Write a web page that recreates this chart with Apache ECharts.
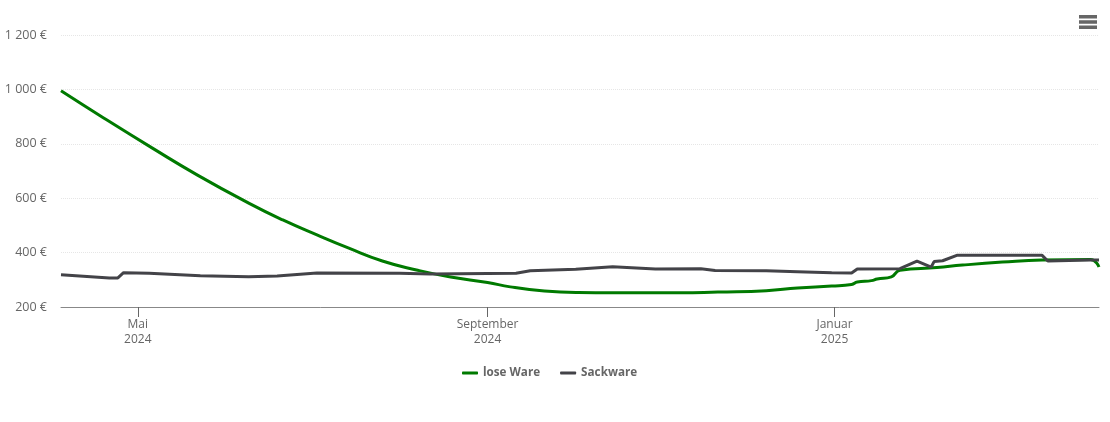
<!DOCTYPE html>
<html>
<head>
    <meta charset="UTF-8"/>
    <script type="text/javascript" src="https://cdn.jsdelivr.net/npm/echarts@6/dist/echarts.min.js"></script>
    <title>Preis</title>
    <style>
        html, body { margin: 0; padding: 0; background: #fff; }
        #main { width: 1110px; height: 422px; }
    </style>
</head>
<body>
<div id="main"></div>
<script type="text/javascript">
    var loseDates = ['2024-04-04', '2024-04-19', '2024-05-06', '2024-05-22', '2024-06-09', '2024-06-21', '2024-07-03', '2024-07-14', '2024-07-26', '2024-08-07', '2024-08-19', '2024-09-01', '2024-09-09', '2024-09-21', '2024-10-03', '2024-10-15', '2024-10-27', '2024-11-08', '2024-11-21', '2024-12-08', '2024-12-19', '2024-12-31', '2025-01-07', '2025-01-09', '2025-01-14', '2025-01-16', '2025-01-21', '2025-01-24', '2025-02-06', '2025-02-15', '2025-03-01', '2025-03-15', '2025-04-01', '2025-04-04'];
    var loseValues = [995, 895, 785, 685, 582, 520, 465, 417, 369, 336, 310, 290, 274, 259, 253, 252, 252, 252, 255, 260, 270, 277, 283, 292, 297, 303, 311, 335, 345, 354, 365, 373, 375, 347];

    var sackDates = ['2024-04-04', '2024-04-21', '2024-04-24', '2024-04-26', '2024-05-05', '2024-05-23', '2024-06-09', '2024-06-19', '2024-07-03', '2024-08-01', '2024-08-12', '2024-09-11', '2024-09-16', '2024-10-02', '2024-10-15', '2024-10-30', '2024-11-15', '2024-11-20', '2024-12-08', '2024-12-19', '2024-12-31', '2025-01-07', '2025-01-09', '2025-01-24', '2025-01-30', '2025-02-04', '2025-02-05', '2025-02-08', '2025-02-13', '2025-03-15', '2025-03-17', '2025-04-01', '2025-04-04'];
    var sackValues = [319, 307, 307, 326, 324, 315, 311, 314, 325, 324, 321, 324, 333, 339, 348, 340, 341, 334, 333, 330, 326, 325, 340, 341, 369, 347, 367, 370, 390, 390, 369, 373, 373];

    var xTickDates = ['2024-05-01', '2024-09-01', '2025-01-01'];
    var xTickLabels = ['Mai\n2024', 'September\n2024', 'Januar\n2025'];
    var yTickLabels = {200: '200 €', 400: '400 €', 600: '600 €', 800: '800 €', 1000: '1 000 €', 1200: '1 200 €'};

    function toTime(d) {
        return new Date(d + 'T00:00:00').getTime();
    }

    function pairs(dates, values) {
        return dates.map(function (d, i) {
            return [toTime(d), values[i]];
        });
    }

    var xTicks = xTickDates.map(toTime);
    var myChart = echarts.init(document.getElementById('main'), null, {renderer: 'canvas'});

    var option = {
        animation: false,
        textStyle: {fontFamily: '"Open Sans", sans-serif'},
        grid: {left: 61, right: 11, top: 35, bottom: 115},
        legend: {
            left: 457,
            top: 362,
            icon: 'roundRect',
            itemWidth: 16,
            itemHeight: 3,
            itemGap: 20,
            textStyle: {color: '#666', fontSize: 11.7, fontWeight: 'bold', fontFamily: '"Open Sans", sans-serif'},
            data: ['lose Ware', 'Sackware']
        },
        toolbox: {
            right: -2,
            top: 0,
            itemSize: 18,
            feature: {
                myMenu: {
                    show: true,
                    title: 'Menü',
                    icon: 'path://M0 0H18V3.4H0ZM0 5.3H18V8.7H0ZM0 10.6H18V14H0Z',
                    iconStyle: {color: '#666', borderColor: '#666', borderWidth: 0},
                    onclick: function () {}
                }
            }
        },
        xAxis: {
            type: 'value',
            min: toTime('2024-04-04'),
            max: toTime('2025-04-04'),
            axisLine: {lineStyle: {color: '#888', width: 1}},
            axisTick: {show: true, length: 10, lineStyle: {color: '#666'}, customValues: xTicks},
            axisLabel: {
                color: '#666',
                fontSize: 12,
                lineHeight: 15,
                margin: 10,
                hideOverlap: false,
                customValues: xTicks,
                formatter: function (value) {
                    return xTickLabels[xTicks.indexOf(value)];
                }
            },
            splitLine: {show: false}
        },
        yAxis: {
            type: 'value',
            min: 200,
            max: 1200,
            interval: 200,
            axisLine: {show: false},
            axisTick: {show: false},
            axisLabel: {
                color: '#666',
                fontSize: 12.5,
                margin: 14,
                padding: [4, 0, 0, 0],
                formatter: function (value) {
                    return yTickLabels[value];
                }
            },
            splitLine: {lineStyle: {color: '#e6e6e6', type: 'dotted', width: 1}}
        },
        series: [
            {
                name: 'lose Ware',
                type: 'line',
                data: pairs(loseDates, loseValues),
                showSymbol: false,
                smooth: 0.5,
                lineStyle: {color: '#007a00', width: 3},
                itemStyle: {color: '#007a00'}
            },
            {
                name: 'Sackware',
                type: 'line',
                data: pairs(sackDates, sackValues),
                showSymbol: false,
                lineStyle: {color: '#434348', width: 3},
                itemStyle: {color: '#434348'}
            }
        ]
    };
    myChart.setOption(option);
</script>
</body>
</html>
